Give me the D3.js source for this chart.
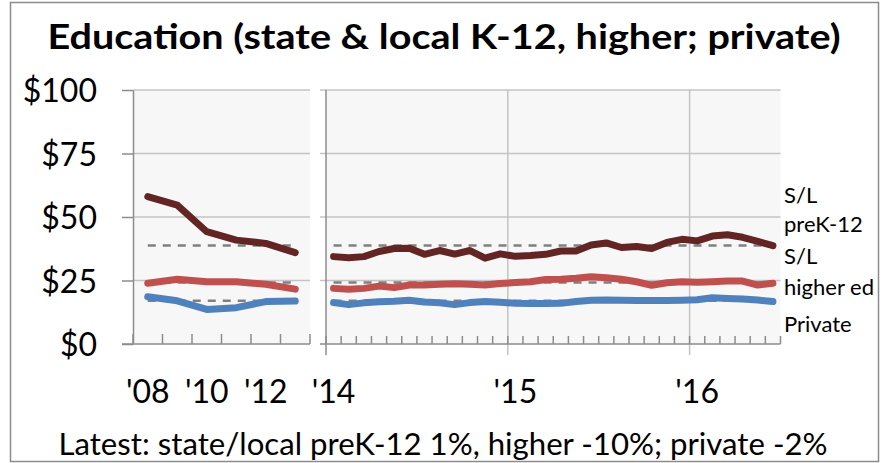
<!DOCTYPE html>
<html>
<head>
<meta charset="utf-8">
<title>Education</title>
<script src="https://d3js.org/d3.v7.min.js"></script>
<style>
  body { margin: 0; background: #ffffff; }
  svg text { font-family: Lato, "Open Sans", sans-serif; fill: #000; }
</style>
</head>
<body>
<div id="chart"></div>
<script>
// ---- data ----
var leftYears = ["2008", "2009", "2010", "2011", "2012", "2013"];
var leftPreK = [58.0, 54.7, 44.2, 40.9, 39.6, 36.0];
var leftHigher = [23.9, 25.5, 24.5, 24.5, 23.5, 21.6];
var leftPrivate = [18.6, 17.0, 13.6, 14.3, 16.7, 16.9];

var months = ["2014-01", "2014-02", "2014-03", "2014-04", "2014-05", "2014-06",
              "2014-07", "2014-08", "2014-09", "2014-10", "2014-11", "2014-12",
              "2015-01", "2015-02", "2015-03", "2015-04", "2015-05", "2015-06",
              "2015-07", "2015-08", "2015-09", "2015-10", "2015-11", "2015-12",
              "2016-01", "2016-02", "2016-03", "2016-04", "2016-05", "2016-06"];
var rightPreK = [34.4, 34.0, 34.4, 36.4, 37.6, 37.7, 35.3, 36.8, 35.4, 36.8, 33.8, 35.5,
                 34.5, 34.8, 35.3, 36.6, 36.6, 39.0, 39.8, 38.0, 38.4, 37.6, 40.0, 41.2,
                 40.6, 42.5, 43.0, 42.0, 40.4, 38.7];
var rightHigher = [21.9, 21.6, 21.9, 22.8, 22.2, 23.2, 23.2, 23.5, 23.7, 23.5, 23.2, 23.8,
                   24.2, 24.5, 25.4, 25.5, 25.9, 26.5, 26.1, 25.5, 24.5, 23.1, 24.1, 24.5,
                   24.3, 24.5, 24.8, 24.8, 23.2, 23.9];
var rightPrivate = [16.3, 15.5, 16.2, 16.6, 16.8, 17.2, 16.5, 16.2, 15.5, 16.3, 16.7, 16.4,
                    16.0, 15.9, 15.9, 16.0, 16.7, 17.2, 17.3, 17.2, 17.1, 17.1, 17.1, 17.2,
                    17.4, 18.2, 17.9, 17.7, 17.3, 16.7];

// dashed reference levels (preK-12, higher ed, private)
var benchmarks = [38.8, 24.2, 17.0];

var yTicks = [0, 25, 50, 75, 100];
var leftTickLabels = {"2008": "'08", "2010": "'10", "2012": "'12"};
var rightTickLabels = {"2014-01": "'14", "2015-01": "'15", "2016-01": "'16"};
var yearStarts = ["2014-01", "2015-01", "2016-01"];

var seriesNames = ["preK", "higher", "private"];
var colors = {preK: "#632523", higher: "#c0504d", private: "#4f81bd"};

var labelLines = [
  {text: "S/L", y: 203},
  {text: "preK-12", y: 232},
  {text: "S/L", y: 264},
  {text: "higher ed", y: 295},
  {text: "Private", y: 332}
];

// ---- layout ----
var W = 889, H = 463;
var svg = d3.select("#chart").append("svg")
    .attr("width", W)
    .attr("height", H);

svg.append("rect")
    .attr("x", 10.5).attr("y", 2.5)
    .attr("width", 868).attr("height", 459)
    .attr("fill", "#fff")
    .attr("stroke", "#8c8c8c")
    .attr("stroke-width", 1.5);

var y = d3.scaleLinear().domain([0, 100]).range([344, 90]);
var xL = d3.scaleBand().domain(leftYears).range([133, 310]);
var xR = d3.scaleBand().domain(months).range([326, 780.5]);

var gridColor = "#c4c4c4", axisColor = "#8c8c8c";

// plot backgrounds
[xL, xR].forEach(function(x) {
  svg.append("rect")
      .attr("x", x.range()[0]).attr("y", y(100))
      .attr("width", x.range()[1] - x.range()[0])
      .attr("height", y(0) - y(100))
      .attr("fill", "#f7f7f7");
});

// horizontal gridlines
[xL, xR].forEach(function(x, i) {
  svg.append("g").selectAll("line")
      .data(yTicks.filter(function(d) { return d > 0; }))
      .enter().append("line")
      .attr("x1", i === 0 ? x.range()[0] : x.range()[0] - 6)
      .attr("x2", x.range()[1])
      .attr("y1", function(d) { return y(d); })
      .attr("y2", function(d) { return y(d); })
      .attr("stroke", gridColor)
      .attr("stroke-width", 1.5);
});

// vertical year gridlines in right panel
svg.append("g").selectAll("line")
    .data(yearStarts.slice(1))
    .enter().append("line")
    .attr("x1", function(d) { return xR(d); })
    .attr("x2", function(d) { return xR(d); })
    .attr("y1", y(100))
    .attr("y2", y(0) + 11)
    .attr("stroke", gridColor)
    .attr("stroke-width", 1.5);

// y axis (left panel)
var yAxis = svg.append("g")
    .attr("transform", "translate(" + xL.range()[0] + ",0)")
    .call(d3.axisLeft(y).tickValues(yTicks).tickSizeInner(11).tickSizeOuter(0)
      .tickPadding(25).tickFormat(function(d) { return "$" + d; }));
yAxis.select(".domain").attr("stroke", axisColor).attr("stroke-width", 1.5);
yAxis.selectAll(".tick line").attr("stroke", axisColor).attr("stroke-width", 1.5);
yAxis.selectAll(".tick text")
    .style("font-family", "Lato, sans-serif")
    .style("font-size", "32px")
    .attr("dy", "0.36em");

// right panel left edge
svg.append("line")
    .attr("x1", xR.range()[0]).attr("x2", xR.range()[0])
    .attr("y1", y(100)).attr("y2", y(0) + 11)
    .attr("stroke", axisColor).attr("stroke-width", 1.5);

// x axes
function xAxis(x, domain, tickH, labels) {
  var g = svg.append("g");
  g.append("line")
      .attr("x1", x.range()[0] - (x === xL ? 11 : 6)).attr("x2", x.range()[1])
      .attr("y1", y(0)).attr("y2", y(0))
      .attr("stroke", axisColor).attr("stroke-width", 1.5);
  var edges = domain.map(function(d) { return x(d); }).concat([x.range()[1]]);
  g.selectAll(".mt").data(edges).enter().append("line")
      .attr("x1", function(d) { return d; })
      .attr("x2", function(d) { return d; })
      .attr("y1", y(0))
      .attr("y2", y(0) - tickH)
      .attr("stroke", axisColor).attr("stroke-width", 1.5);
  g.selectAll("text").data(domain.filter(function(d) { return labels[d]; }))
      .enter().append("text")
      .attr("x", function(d) { return x(d) + x.bandwidth() / 2; })
      .attr("y", 403)
      .attr("text-anchor", "middle")
      .style("font-size", "32px")
      .text(function(d) { return labels[d]; });
}
xAxis(xL, leftYears, 10, leftTickLabels);
xAxis(xR, months, 8, rightTickLabels);

// lines
var panels = [
  {x: xL, cats: leftYears, values: {preK: leftPreK, higher: leftHigher, private: leftPrivate}},
  {x: xR, cats: months, values: {preK: rightPreK, higher: rightHigher, private: rightPrivate}}
];

panels.forEach(function(p) {
  var cx = function(i) { return p.x(p.cats[i]) + p.x.bandwidth() / 2; };
  var line = d3.line()
      .x(function(d, i) { return cx(i); })
      .y(function(d) { return y(d); });

  // dashed reference lines first
  benchmarks.forEach(function(b) {
    svg.append("path")
        .datum(p.cats.map(function() { return b; }))
        .attr("d", line)
        .attr("fill", "none")
        .attr("stroke", "#808080")
        .attr("stroke-width", 2.5)
        .attr("stroke-dasharray", "8,7");
  });

  seriesNames.forEach(function(s) {
    svg.append("path")
        .datum(p.values[s])
        .attr("d", line)
        .attr("fill", "none")
        .attr("stroke", colors[s])
        .attr("stroke-width", 7)
        .attr("stroke-linejoin", "round")
        .attr("stroke-linecap", "round");
  });
});

// series labels on the right
svg.append("g").selectAll("text")
    .data(labelLines)
    .enter().append("text")
    .attr("x", 784)
    .attr("y", function(d) { return d.y; })
    .style("font-size", "22px")
    .text(function(d) { return d.text; });

// title and footnote (stretched to the reference width)
svg.append("text")
    .attr("x", 444).attr("y", 49)
    .attr("text-anchor", "middle")
    .attr("textLength", 793)
    .attr("lengthAdjust", "spacingAndGlyphs")
    .style("font-size", "35px")
    .style("font-weight", "bold")
    .text("Education (state & local K-12, higher; private)");

svg.append("text")
    .attr("x", 443).attr("y", 455)
    .attr("text-anchor", "middle")
    .attr("textLength", 769)
    .attr("lengthAdjust", "spacingAndGlyphs")
    .style("font-size", "30px")
    .text("Latest: state/local preK-12 1%, higher -10%; private -2%");
</script>
</body>
</html>
